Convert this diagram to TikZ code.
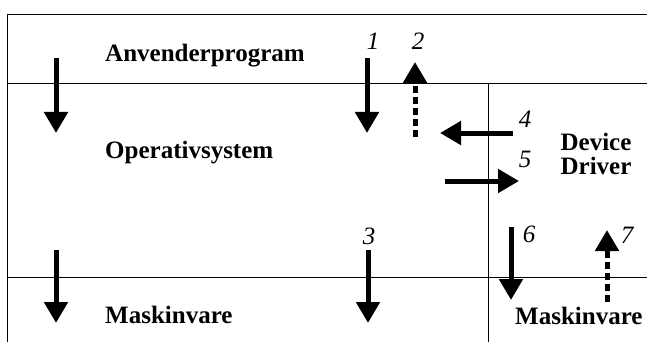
\documentclass[tikz,border=0pt]{standalone}
\usepackage{fontspec}
\setmainfont{Liberation Serif}
\usetikzlibrary{arrows.meta}

\tikzset{
    layer/.style={font=\fontsize{25}{24}\selectfont\bfseries, inner sep=0pt},
    num/.style={font=\fontsize{25}{24}\selectfont\itshape, inner sep=0pt, anchor=base},
    call/.style={line width=5pt, -{Triangle[width=23pt,length=21pt]}},
    reply/.style={call, dash pattern=on 7pt off 4pt}
}

\begin{document}
\begin{tikzpicture}[x=1pt, y=-1pt]
        \useasboundingbox (0,0) rectangle (647,342);

        % Frame
        \draw[line width=1pt] (647,15) -- (7,15) -- (7,342);
        \draw[line width=1pt] (7,84) -- (647,84);
        \draw[line width=1pt] (7,277) -- (647,277);
        \draw[line width=1pt] (488,84) -- (488,342);

        % Nodes
        \node[layer, anchor=base west] (App) at (105,62) {Anvenderprogram};
        \node[layer, anchor=base west] (OS) at (105,158) {Operativsystem};
        \node[layer, anchor=base west] (HW) at (105,323) {Maskinvare};
        \node[layer, align=center] (Driver) at (596,154) {Device\\Driver};
        \node[layer, anchor=base west] (DevHW) at (515,324) {Maskinvare};

        \node[num] (N1) at (373,50) {1};
        \node[num] (N2) at (418,50) {2};
        \node[num] (N3) at (369,244) {3};
        \node[num] (N4) at (525,127) {4};
        \node[num] (N5) at (525,167) {5};
        \node[num] (N6) at (529,242) {6};
        \node[num] (N7) at (627,243) {7};

        % Arrow ends
        \coordinate (LTop) at (56,58);
        \coordinate (LMid) at (56,133);
        \coordinate (LLow) at (56,250);
        \coordinate (LEnd) at (56,323);
        \coordinate (C1a) at (367,58);
        \coordinate (C1b) at (367,133);
        \coordinate (R2a) at (415,137);
        \coordinate (R2b) at (415,62);
        \coordinate (C3a) at (368,250);
        \coordinate (C3b) at (368,323);
        \coordinate (C4a) at (513,133);
        \coordinate (C4b) at (440,133);
        \coordinate (C5a) at (445,181);
        \coordinate (C5b) at (519,181);
        \coordinate (C6a) at (511,227);
        \coordinate (C6b) at (511,300);
        \coordinate (R7a) at (607,302);
        \coordinate (R7b) at (607,230);

        % Arrows
        \draw[call] (LTop) -- (LMid);
        \draw[call] (LLow) -- (LEnd);
        \draw[call] (C1a) -- (C1b);
        \draw[reply] (R2a) -- (R2b);
        \draw[call] (C3a) -- (C3b);
        \draw[call] (C4a) -- (C4b);
        \draw[call] (C5a) -- (C5b);
        \draw[call] (C6a) -- (C6b);
        \draw[reply] (R7a) -- (R7b);
    \end{tikzpicture}
\end{document}
